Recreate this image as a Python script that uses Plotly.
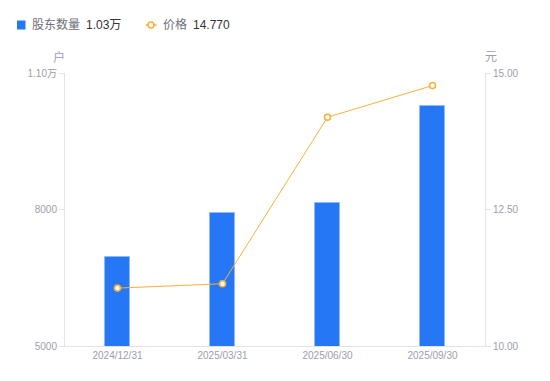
import plotly.graph_objects as go

categories = ["2024/12/31", "2025/03/31", "2025/06/30", "2025/09/30"]
holders = [6960, 7930, 8140, 10270]
prices = [11.06, 11.14, 14.19, 14.77]
left_ticks = [5000, 8000, 11000]
left_tick_text = ["5000", "8000", "1.10万"]
right_ticks = [10, 12.5, 15]
right_tick_text = ["10.00", "12.50", "15.00"]

BLUE = "#2577F5"
ORANGE = "#F7B13A"
TICK = "#9d9dab"
AXIS = "#e3e3e6"
FONT = "Liberation Sans, Noto Sans CJK SC, sans-serif"

OFF = 8  # default page body margin
PAGE_W, PAGE_H = 550, 381
W, H = PAGE_W - OFF, PAGE_H - OFF
# plot area in page pixels: x 65..485, y 73..346
L = 65 - OFF
R = PAGE_W - 485
T = 73 - OFF
B = PAGE_H - 346
PW = W - L - R
PH = H - T - B


def px(xp):
    return (xp - 65) / PW


def py(yp):
    return (346 - yp) / PH


fig = go.Figure()
fig.add_trace(go.Bar(
    x=categories, y=holders, name="股东数量", width=0.24,
    marker=dict(color=BLUE, line=dict(color="#8fbaf8", width=1)),
    yaxis="y", showlegend=False,
))
fig.add_trace(go.Scatter(
    x=categories, y=prices, name="价格", mode="lines+markers",
    line=dict(color=ORANGE, width=1),
    marker=dict(symbol="circle", size=6, color="white", line=dict(color=ORANGE, width=1.6)),
    yaxis="y2", showlegend=False,
))

fig.update_layout(
    width=W, height=H,
    margin=dict(l=L, r=R, t=T, b=B),
    paper_bgcolor="white", plot_bgcolor="white",
    font=dict(family=FONT, size=10, color=TICK),
    bargap=0,
    xaxis=dict(
        type="category", showgrid=False, zeroline=False,
        showline=True, linecolor=AXIS, linewidth=1,
        ticks="", tickfont=dict(size=10, color=TICK),
    ),
    yaxis=dict(
        range=[5000, 11000], tickvals=left_ticks, ticktext=left_tick_text,
        showgrid=False, zeroline=False, showline=True, linecolor=AXIS, linewidth=1,
        ticks="outside", ticklen=5, tickcolor=AXIS, tickfont=dict(size=10, color=TICK),
    ),
    yaxis2=dict(
        range=[10, 15], tickvals=right_ticks, ticktext=right_tick_text,
        overlaying="y", side="right",
        showgrid=False, zeroline=False, showline=True, linecolor=AXIS, linewidth=1,
        ticks="outside", ticklen=5, tickcolor=AXIS, tickfont=dict(size=10, color=TICK),
    ),
)

# axis unit labels
fig.add_annotation(text="户", xref="paper", yref="paper", x=px(58.5), y=py(57),
                   showarrow=False, font=dict(size=12, color=TICK), xanchor="center", yanchor="middle")
fig.add_annotation(text="元", xref="paper", yref="paper", x=px(490.5), y=py(57),
                   showarrow=False, font=dict(size=12, color=TICK), xanchor="center", yanchor="middle")

# legend (manual)
fig.add_shape(type="rect", xref="paper", yref="paper",
              x0=px(17), x1=px(25.5), y0=py(29.5), y1=py(20.5),
              fillcolor=BLUE, line=dict(width=0))
fig.add_shape(type="line", xref="paper", yref="paper",
              x0=px(145.5), x1=px(156.5), y0=py(25), y1=py(25),
              line=dict(color=ORANGE, width=1.5))
fig.add_shape(type="circle", xref="paper", yref="paper",
              x0=px(148), x1=px(154), y0=py(28), y1=py(22),
              fillcolor="white", line=dict(color=ORANGE, width=1.6))
legend_items = [("股东数量", 31, "#6e6e7a"), ("1.03万", 85, "#333333"),
                ("价格", 162, "#6e6e7a"), ("14.770", 192, "#333333")]
for txt, xp, col in legend_items:
    fig.add_annotation(text=txt, xref="paper", yref="paper", x=px(xp), y=py(25),
                       showarrow=False, xanchor="left", yanchor="middle",
                       font=dict(size=12, color=col), borderpad=0)

fig.write_html("out.html")
